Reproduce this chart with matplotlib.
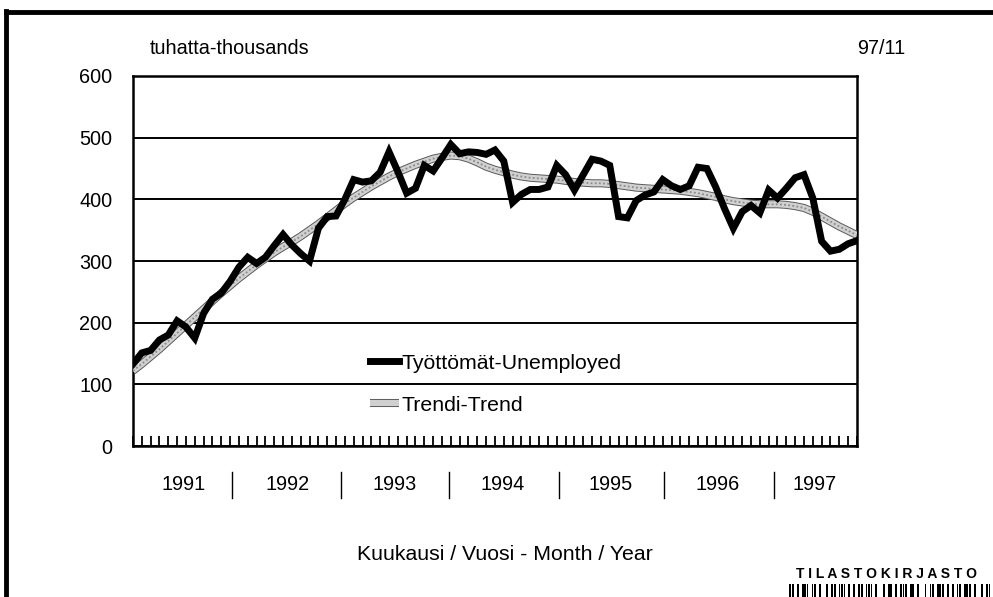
import matplotlib
matplotlib.use('Agg')
import matplotlib.pyplot as plt
import matplotlib.patheffects as pe
from matplotlib.lines import Line2D
import numpy as np

plt.rcParams['font.family'] = ['Liberation Sans', 'DejaVu Sans']

# monthly data, Jan 1991 - Nov 1997 (thousands)
unemployed = [133, 151, 155, 172, 180, 203, 193, 175, 215, 238, 248, 267,
              290, 306, 296, 306, 325, 343, 326, 312, 300, 353, 372, 373,
              400, 432, 428, 430, 444, 477, 445, 410, 418, 455, 446, 467,
              489, 474, 477, 476, 473, 480, 462, 395, 408, 416, 416, 420,
              455, 440, 415, 440, 465, 462, 455, 372, 370, 398, 407, 412,
              432, 422, 416, 422, 452, 450, 420, 385, 353, 380, 390, 378,
              415, 402, 418, 435, 440, 402, 332, 316, 319, 328, 333]
trend = [122, 133, 145, 157, 170, 183, 196, 209, 222, 235, 248, 260,
         272, 283, 294, 304, 314, 323, 331, 340, 350, 360, 371, 382,
         393, 403, 412, 421, 429, 437, 444, 450, 456, 461, 466, 469,
         471, 470, 466, 460, 453, 448, 444, 440, 437, 435, 434, 433,
         432, 430, 428, 427, 426, 426, 425, 423, 421, 419, 418, 417,
         416, 415, 414, 412, 410, 407, 404, 400, 397, 395, 393, 392,
         392, 392, 391, 389, 386, 380, 372, 364, 356, 349, 342]
years = ['1991', '1992', '1993', '1994', '1995', '1996', '1997']
y_ticks = [0, 100, 200, 300, 400, 500, 600]

# label / separator positions (axes fraction) as in the printed chart
year_pos = [0.070, 0.213, 0.362, 0.510, 0.659, 0.808, 0.942]
sep_pos = [0.137, 0.287, 0.436, 0.588, 0.734, 0.885]

FS = 14.3

fig = plt.figure(figsize=(9.93, 5.97), dpi=100)
ax = fig.add_axes([0.1339, 0.2529, 0.7291, 0.6198])

x = np.arange(len(unemployed))

ax.plot(x, trend, color='#d0d0d0', lw=4.4, solid_capstyle='butt',
        path_effects=[pe.Stroke(linewidth=5.8, foreground='#5a5a5a'),
                      pe.Normal()],
        label='Trendi-Trend', zorder=3)
ax.plot(x, trend, color='#8a8a8a', lw=1.3, ls=(0, (1, 1.3)), zorder=3.1)
ax.plot(x, unemployed, color='black', lw=5.0, solid_joinstyle='miter',
        label='Työttömät-Unemployed', zorder=4)

ax.set_xlim(0, len(unemployed) - 1)
ax.set_ylim(0, 600)
ax.set_yticks(y_ticks)
ax.set_yticklabels([str(v) for v in y_ticks], fontsize=FS)
ax.tick_params(axis='y', length=0, pad=15)
ax.yaxis.grid(True, color='black', lw=1.4)
ax.set_axisbelow(True)

ax.set_xticks(x)
ax.set_xticklabels([])
ax.tick_params(axis='x', direction='in', length=7, width=1.3, color='black')

for s in ax.spines.values():
    s.set_linewidth(1.8)
    s.set_color('black')

for lab, px in zip(years, year_pos):
    ax.text(px, -0.105, lab, transform=ax.transAxes, ha='center',
            va='center', fontsize=FS)
for px in sep_pos:
    ax.plot([px, px], [-0.07, -0.14], transform=ax.transAxes,
            color='black', lw=1.0, clip_on=False)

handles, labels = ax.get_legend_handles_labels()
leg = ax.legend(handles[::-1], labels[::-1], loc='upper left',
                bbox_to_anchor=(0.315, 0.273), frameon=False, fontsize=15.3,
                handlelength=1.4, handletextpad=0.1, labelspacing=1.1,
                borderaxespad=0)

fig.text(0.151, 0.919, 'tuhatta-thousands', fontsize=FS, ha='left',
         va='center')
fig.text(0.912, 0.919, '97/11', fontsize=FS, ha='right', va='center')
fig.text(0.5086, 0.0704, 'Kuukausi / Vuosi - Month / Year', fontsize=15.3,
         ha='center', va='center')

# scanned frame
fig.add_artist(Line2D([0.006, 0.006], [0.0, 0.982], color='black', lw=3.5))
fig.add_artist(Line2D([0.006, 1.0], [0.980, 0.980], color='black', lw=3.5))

# library stamp
fig.text(0.893, 0.038, 'T I L A S T O K I R J A S T O', fontsize=10,
         fontweight='bold', ha='center', va='center')
pattern = '1101011101101001011011101010110111010010110101110110100101101110101011011101001011'
bx0, bx1 = 0.795, 0.998
bw = (bx1 - bx0) / len(pattern)
for i, b in enumerate(pattern):
    if b == '1':
        fig.add_artist(plt.Rectangle((bx0 + i * bw, 0.0), bw * 0.75, 0.022,
                                     transform=fig.transFigure,
                                     color='black', lw=0))

fig.savefig('out.png', dpi=100)
